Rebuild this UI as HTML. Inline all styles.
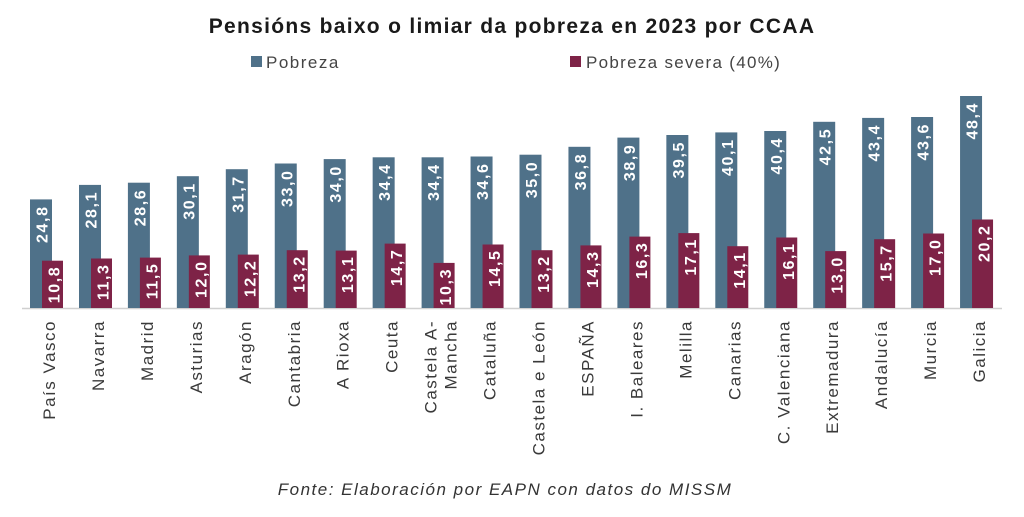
<!DOCTYPE html>
<html><head><meta charset="utf-8"><style>
body{margin:0;background:#fff;}
svg{display:block;font-family:"Liberation Sans",sans-serif;}
.b{fill:#4f7189}.r{fill:#7e2347}
.v{fill:#fff;font-weight:bold;font-size:16px;letter-spacing:1.6px;text-anchor:end}
.c{fill:#3a3a3a;font-size:17px;letter-spacing:1.5px;text-anchor:end}
</style></head><body>
<svg width="1024" height="517" viewBox="0 0 1024 517">
<text x="512" y="33" text-anchor="middle" font-size="21" font-weight="bold" letter-spacing="1.3" fill="#1a1a1a">Pensións baixo o limiar da pobreza en 2023 por CCAA</text>
<rect x="251" y="56" width="11" height="11" class="b"/><text x="266" y="68" font-size="17" letter-spacing="1.5" fill="#444">Pobreza</text>
<rect x="570" y="56" width="11" height="11" class="r"/><text x="586" y="68" font-size="17" letter-spacing="1.3" fill="#444">Pobreza severa (40%)</text>
<line x1="22" y1="308.5" x2="1002" y2="308.5" stroke="#d0d0d0" stroke-width="1.5"/>
<g transform="translate(30,0)"><rect y="199.4" width="22" height="108.6" class="b"/><rect x="12" y="260.7" width="21" height="47.3" class="r"/><text transform="translate(17.5,205.4) rotate(-90)" class="v">24,8</text><text transform="translate(29.5,265.7) rotate(-90)" class="v">10,8</text><text transform="translate(25,320) rotate(-90)" class="c">País Vasco</text></g>
<g transform="translate(79,0)"><rect y="184.9" width="22" height="123.1" class="b"/><rect x="12" y="258.5" width="21" height="49.5" class="r"/><text transform="translate(17.5,190.9) rotate(-90)" class="v">28,1</text><text transform="translate(29.5,263.5) rotate(-90)" class="v">11,3</text><text transform="translate(25,320) rotate(-90)" class="c">Navarra</text></g>
<g transform="translate(127.9,0)"><rect y="182.7" width="22" height="125.3" class="b"/><rect x="12" y="257.6" width="21" height="50.4" class="r"/><text transform="translate(17.5,188.7) rotate(-90)" class="v">28,6</text><text transform="translate(29.5,262.6) rotate(-90)" class="v">11,5</text><text transform="translate(25,320) rotate(-90)" class="c">Madrid</text></g>
<g transform="translate(176.85,0)"><rect y="176.2" width="22" height="131.8" class="b"/><rect x="12" y="255.4" width="21" height="52.6" class="r"/><text transform="translate(17.5,182.2) rotate(-90)" class="v">30,1</text><text transform="translate(29.5,260.4) rotate(-90)" class="v">12,0</text><text transform="translate(25,320) rotate(-90)" class="c">Asturias</text></g>
<g transform="translate(225.8,0)"><rect y="169.2" width="22" height="138.8" class="b"/><rect x="12" y="254.6" width="21" height="53.4" class="r"/><text transform="translate(17.5,175.2) rotate(-90)" class="v">31,7</text><text transform="translate(29.5,259.6) rotate(-90)" class="v">12,2</text><text transform="translate(25,320) rotate(-90)" class="c">Aragón</text></g>
<g transform="translate(274.75,0)"><rect y="163.5" width="22" height="144.5" class="b"/><rect x="12" y="250.2" width="21" height="57.8" class="r"/><text transform="translate(17.5,169.5) rotate(-90)" class="v">33,0</text><text transform="translate(29.5,255.2) rotate(-90)" class="v">13,2</text><text transform="translate(25,320) rotate(-90)" class="c">Cantabria</text></g>
<g transform="translate(323.7,0)"><rect y="159.1" width="22" height="148.9" class="b"/><rect x="12" y="250.6" width="21" height="57.4" class="r"/><text transform="translate(17.5,165.1) rotate(-90)" class="v">34,0</text><text transform="translate(29.5,255.6) rotate(-90)" class="v">13,1</text><text transform="translate(25,320) rotate(-90)" class="c">A Rioxa</text></g>
<g transform="translate(372.65,0)"><rect y="157.3" width="22" height="150.7" class="b"/><rect x="12" y="243.6" width="21" height="64.4" class="r"/><text transform="translate(17.5,163.3) rotate(-90)" class="v">34,4</text><text transform="translate(29.5,248.6) rotate(-90)" class="v">14,7</text><text transform="translate(25,320) rotate(-90)" class="c">Ceuta</text></g>
<g transform="translate(421.6,0)"><rect y="157.3" width="22" height="150.7" class="b"/><rect x="12" y="262.9" width="21" height="45.1" class="r"/><text transform="translate(17.5,163.3) rotate(-90)" class="v">34,4</text><text transform="translate(29.5,267.9) rotate(-90)" class="v">10,3</text><text transform="translate(15,320) rotate(-90)" class="c">Castela A-</text><text transform="translate(35,320) rotate(-90)" class="c">Mancha</text></g>
<g transform="translate(470.55,0)"><rect y="156.5" width="22" height="151.5" class="b"/><rect x="12" y="244.5" width="21" height="63.5" class="r"/><text transform="translate(17.5,162.5) rotate(-90)" class="v">34,6</text><text transform="translate(29.5,249.5) rotate(-90)" class="v">14,5</text><text transform="translate(25,320) rotate(-90)" class="c">Cataluña</text></g>
<g transform="translate(519.5,0)"><rect y="154.7" width="22" height="153.3" class="b"/><rect x="12" y="250.2" width="21" height="57.8" class="r"/><text transform="translate(17.5,160.7) rotate(-90)" class="v">35,0</text><text transform="translate(29.5,255.2) rotate(-90)" class="v">13,2</text><text transform="translate(25,320) rotate(-90)" class="c">Castela e León</text></g>
<g transform="translate(568.45,0)"><rect y="146.8" width="22" height="161.2" class="b"/><rect x="12" y="245.4" width="21" height="62.6" class="r"/><text transform="translate(17.5,152.8) rotate(-90)" class="v">36,8</text><text transform="translate(29.5,250.4) rotate(-90)" class="v">14,3</text><text transform="translate(25,320) rotate(-90)" class="c">ESPAÑA</text></g>
<g transform="translate(617.4,0)"><rect y="137.6" width="22" height="170.4" class="b"/><rect x="12" y="236.6" width="21" height="71.4" class="r"/><text transform="translate(17.5,143.6) rotate(-90)" class="v">38,9</text><text transform="translate(29.5,241.6) rotate(-90)" class="v">16,3</text><text transform="translate(25,320) rotate(-90)" class="c">I. Baleares</text></g>
<g transform="translate(666.35,0)"><rect y="135" width="22" height="173" class="b"/><rect x="12" y="233.1" width="21" height="74.9" class="r"/><text transform="translate(17.5,141) rotate(-90)" class="v">39,5</text><text transform="translate(29.5,238.1) rotate(-90)" class="v">17,1</text><text transform="translate(25,320) rotate(-90)" class="c">Melilla</text></g>
<g transform="translate(715.3,0)"><rect y="132.4" width="22" height="175.6" class="b"/><rect x="12" y="246.2" width="21" height="61.8" class="r"/><text transform="translate(17.5,138.4) rotate(-90)" class="v">40,1</text><text transform="translate(29.5,251.2) rotate(-90)" class="v">14,1</text><text transform="translate(25,320) rotate(-90)" class="c">Canarias</text></g>
<g transform="translate(764.25,0)"><rect y="131" width="22" height="177" class="b"/><rect x="12" y="237.5" width="21" height="70.5" class="r"/><text transform="translate(17.5,137) rotate(-90)" class="v">40,4</text><text transform="translate(29.5,242.5) rotate(-90)" class="v">16,1</text><text transform="translate(25,320) rotate(-90)" class="c">C. Valenciana</text></g>
<g transform="translate(813.2,0)"><rect y="121.8" width="22" height="186.2" class="b"/><rect x="12" y="251.1" width="21" height="56.9" class="r"/><text transform="translate(17.5,127.8) rotate(-90)" class="v">42,5</text><text transform="translate(29.5,256.1) rotate(-90)" class="v">13,0</text><text transform="translate(25,320) rotate(-90)" class="c">Extremadura</text></g>
<g transform="translate(862.15,0)"><rect y="117.9" width="22" height="190.1" class="b"/><rect x="12" y="239.2" width="21" height="68.8" class="r"/><text transform="translate(17.5,123.9) rotate(-90)" class="v">43,4</text><text transform="translate(29.5,244.2) rotate(-90)" class="v">15,7</text><text transform="translate(25,320) rotate(-90)" class="c">Andalucía</text></g>
<g transform="translate(911.1,0)"><rect y="117" width="22" height="191" class="b"/><rect x="12" y="233.5" width="21" height="74.5" class="r"/><text transform="translate(17.5,123) rotate(-90)" class="v">43,6</text><text transform="translate(29.5,238.5) rotate(-90)" class="v">17,0</text><text transform="translate(25,320) rotate(-90)" class="c">Murcia</text></g>
<g transform="translate(960.05,0)"><rect y="96" width="22" height="212" class="b"/><rect x="12" y="219.5" width="21" height="88.5" class="r"/><text transform="translate(17.5,102) rotate(-90)" class="v">48,4</text><text transform="translate(29.5,224.5) rotate(-90)" class="v">20,2</text><text transform="translate(25,320) rotate(-90)" class="c">Galicia</text></g>
<text x="505" y="495" text-anchor="middle" font-size="17" font-style="italic" letter-spacing="1.5" fill="#333">Fonte: Elaboración por EAPN con datos do MISSM</text>
</svg>
</body></html>
